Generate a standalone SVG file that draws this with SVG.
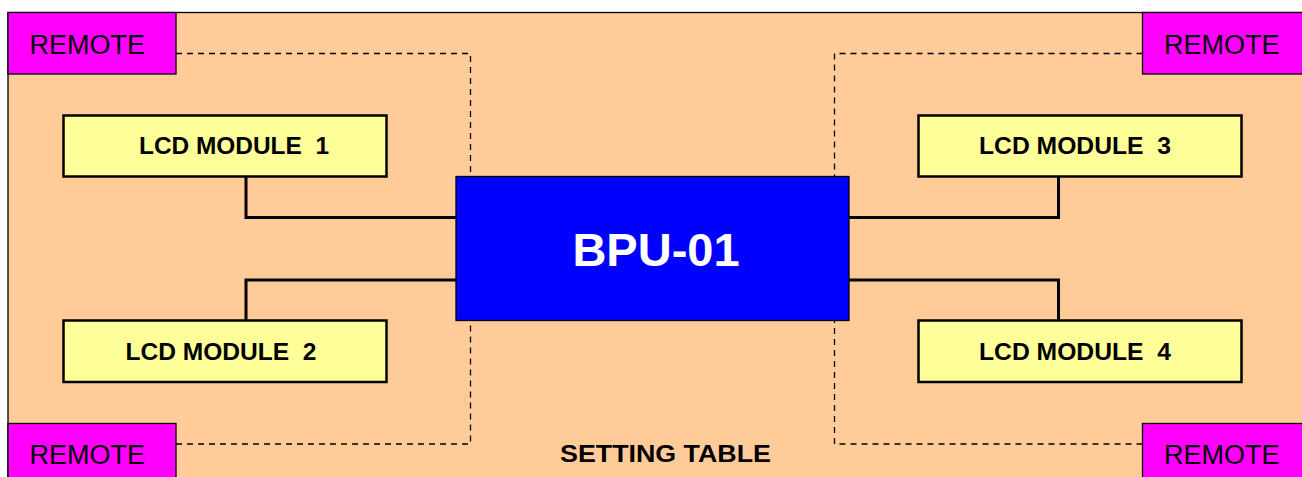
<svg xmlns="http://www.w3.org/2000/svg" width="1302" height="477" viewBox="0 0 1302 477">
<style>
.bg{fill:#FFCC99;stroke:#000;stroke-width:1.3}
.remote{fill:#FF00FF;stroke:#000;stroke-width:1.3}
.lcd{fill:#FFFF99;stroke:#000;stroke-width:2.5}
.bpu{fill:#0000FF;stroke:#000;stroke-width:1.3}
.rt{font-family:"Liberation Sans",Arial,sans-serif;font-size:27px;fill:#000}
.lt{font-family:"Liberation Sans",Arial,sans-serif;font-size:24px;font-weight:bold;fill:#000}
.st{font-family:"Liberation Sans",Arial,sans-serif;font-size:24.5px;font-weight:bold;fill:#000}
.bt{font-family:"Liberation Sans",Arial,sans-serif;font-size:47px;font-weight:bold;fill:#fff}
.solid{fill:none;stroke:#000;stroke-width:3;stroke-linejoin:miter}
.dash{fill:none;stroke:#000;stroke-width:1.3;stroke-dasharray:6,5}
</style>
<rect class="bg" x="8" y="12.5" width="1300" height="480"/>
<g id="connectors">
<path class="solid" d="M246,177 V217.5 H456"/>
<path class="solid" d="M246,320.5 V280 H456"/>
<path class="solid" d="M1058.5,177 V217.5 H849"/>
<path class="solid" d="M1058.5,320.5 V280 H849"/>
<path class="dash" d="M176,53.5 H470.5 V177"/>
<path class="dash" d="M1142.5,53.5 H834.5 V177"/>
<path class="dash" d="M176,444 H470.5 V320.5"/>
<path class="dash" d="M1142.5,444 H834.5 V320.5"/>
</g>
<g id="remote-tl">
<rect class="remote" x="8" y="12.5" width="168" height="61.5"/>
<text class="rt" x="29.5" y="53.5">REMOTE</text>
</g>
<g id="remote-tr">
<rect class="remote" x="1142.5" y="12.5" width="165" height="61.5"/>
<text class="rt" x="1164" y="53.5">REMOTE</text>
</g>
<g id="remote-bl">
<rect class="remote" x="8" y="423.5" width="168" height="70"/>
<text class="rt" x="29.5" y="464">REMOTE</text>
</g>
<g id="remote-br">
<rect class="remote" x="1142.5" y="423.5" width="165" height="70"/>
<text class="rt" x="1164" y="464">REMOTE</text>
</g>
<g id="lcd1">
<rect class="lcd" x="63.5" y="115.5" width="323" height="61"/>
<text class="lt" x="139" y="154" xml:space="preserve" textLength="190" lengthAdjust="spacingAndGlyphs">LCD MODULE  1</text>
</g>
<g id="lcd2">
<rect class="lcd" x="63.5" y="320.5" width="323" height="61.5"/>
<text class="lt" x="125.5" y="359.5" xml:space="preserve" textLength="191" lengthAdjust="spacingAndGlyphs">LCD MODULE  2</text>
</g>
<g id="lcd3">
<rect class="lcd" x="918.5" y="115.5" width="323" height="61"/>
<text class="lt" x="979" y="154" xml:space="preserve" textLength="192" lengthAdjust="spacingAndGlyphs">LCD MODULE  3</text>
</g>
<g id="lcd4">
<rect class="lcd" x="918.5" y="320.5" width="323" height="61.5"/>
<text class="lt" x="979" y="359.5" xml:space="preserve" textLength="192" lengthAdjust="spacingAndGlyphs">LCD MODULE  4</text>
</g>
<g id="bpu">
<rect class="bpu" x="456" y="176.5" width="393" height="144"/>
<text class="bt" x="656" y="266" text-anchor="middle">BPU-01</text>
</g>
<g id="setting-table">
<text class="st" x="560" y="461.5" textLength="211" lengthAdjust="spacingAndGlyphs">SETTING TABLE</text>
</g>
</svg>
